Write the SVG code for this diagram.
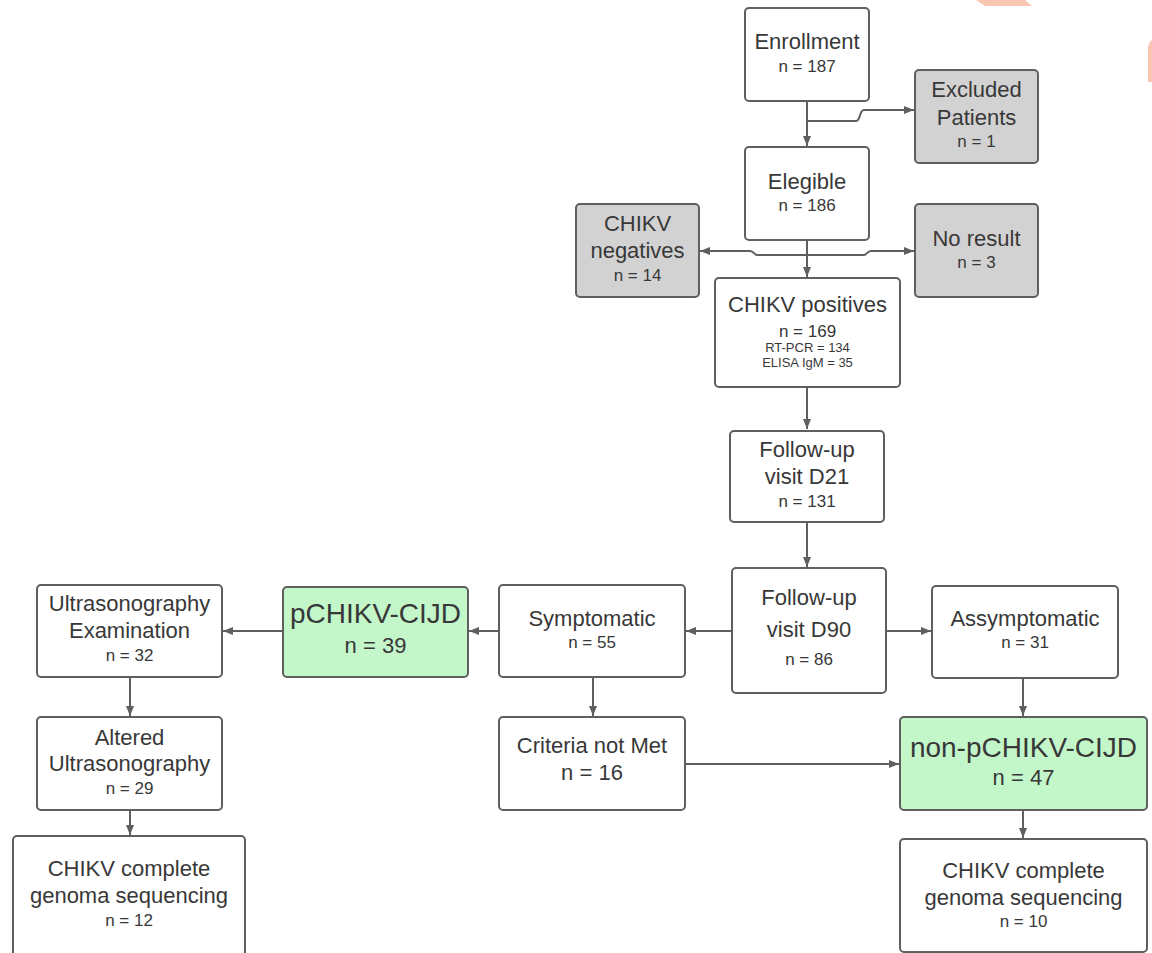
<svg xmlns="http://www.w3.org/2000/svg" width="1152" height="953" viewBox="0 0 1152 953">
<defs>
<style>
.box{fill:#ffffff;stroke:#5f5f5f;stroke-width:2}
.grey{fill:#d2d2d2;stroke:#5f5f5f;stroke-width:2}
.green{fill:#c3f6c9;stroke:#5f5f5f;stroke-width:2}
.t{font-family:"Liberation Sans",Arial,sans-serif;fill:#383838;text-anchor:middle}
.l{font-size:22px}
.s{font-size:17px}
.xs{font-size:13px}
.xl{font-size:28px}
.m{font-size:22px}
.c{fill:none;stroke:#5f5f5f;stroke-width:2}
</style>
<marker id="ah" viewBox="0 0 10 8" refX="10" refY="4" markerWidth="10" markerHeight="8" markerUnits="userSpaceOnUse" orient="auto">
<path d="M0,0 L10,4 L0,8 z" fill="#5f5f5f"/>
</marker>
</defs>
<rect width="1152" height="953" fill="#ffffff"/>
<polygon points="976,0 1025,0 1032,6 985,6" fill="#f9c7b1"/>
<path d="M1152,40 C1149,42 1148,45 1148,50 V82 H1152 Z" fill="#f9c7b1"/>

<g id="connectors">
<path class="c" d="M807 101 V146" marker-end="url(#ah)"/>
<path class="c" d="M807 121 H856 C861 121 859 110 864 110 H914" marker-end="url(#ah)"/>
<path class="c" d="M807 240 V277" marker-end="url(#ah)"/>
<path class="c" d="M807 255 H757 C754 255 754 251 750 251 H700" marker-end="url(#ah)"/>
<path class="c" d="M807 255 H864 C867 255 867 251 871 251 H914" marker-end="url(#ah)"/>
<path class="c" d="M807 387 V429" marker-end="url(#ah)"/>
<path class="c" d="M807 522 V567" marker-end="url(#ah)"/>
<path class="c" d="M731 631 H686" marker-end="url(#ah)"/>
<path class="c" d="M887 631 H931" marker-end="url(#ah)"/>
<path class="c" d="M498 631 H469" marker-end="url(#ah)"/>
<path class="c" d="M282 631 H223" marker-end="url(#ah)"/>
<path class="c" d="M130 678 V716" marker-end="url(#ah)"/>
<path class="c" d="M130 811 V835" marker-end="url(#ah)"/>
<path class="c" d="M593 678 V716" marker-end="url(#ah)"/>
<path class="c" d="M686 764 H899" marker-end="url(#ah)"/>
<path class="c" d="M1023 679 V716" marker-end="url(#ah)"/>
<path class="c" d="M1023 811 V838" marker-end="url(#ah)"/>
</g>

<g id="enrollment">
<rect class="box" x="745" y="8" width="124" height="93" rx="4"/>
<text class="t l" x="807" y="49">Enrollment</text>
<text class="t s" x="807" y="72">n = 187</text>
</g>
<g id="excluded">
<rect class="grey" x="915" y="70" width="123" height="93" rx="4"/>
<text class="t l" x="976.5" y="97">Excluded</text>
<text class="t l" x="976.5" y="125">Patients</text>
<text class="t s" x="976.5" y="147">n = 1</text>
</g>
<g id="elegible">
<rect class="box" x="745" y="147" width="124" height="93" rx="4"/>
<text class="t l" x="807" y="189">Elegible</text>
<text class="t s" x="807" y="211">n = 186</text>
</g>
<g id="negatives">
<rect class="grey" x="576" y="204" width="123" height="93" rx="4"/>
<text class="t l" x="637.5" y="231">CHIKV</text>
<text class="t l" x="637.5" y="258">negatives</text>
<text class="t s" x="637.5" y="281">n = 14</text>
</g>
<g id="noresult">
<rect class="grey" x="915" y="204" width="123" height="93" rx="4"/>
<text class="t l" x="976.5" y="246">No result</text>
<text class="t s" x="976.5" y="268">n = 3</text>
</g>
<g id="positives">
<rect class="box" x="715" y="278" width="185" height="109" rx="4"/>
<text class="t l" x="807.5" y="312">CHIKV positives</text>
<text class="t s" x="807.5" y="337">n = 169</text>
<text class="t xs" x="807.5" y="352">RT-PCR = 134</text>
<text class="t xs" x="807.5" y="367">ELISA IgM = 35</text>
</g>
<g id="d21">
<rect class="box" x="730" y="431" width="154" height="91" rx="4"/>
<text class="t l" x="807" y="457">Follow-up</text>
<text class="t l" x="807" y="484">visit D21</text>
<text class="t s" x="807" y="507">n = 131</text>
</g>
<g id="d90">
<rect class="box" x="732" y="568" width="154" height="125" rx="4"/>
<text class="t l" x="809" y="605">Follow-up</text>
<text class="t l" x="809" y="637">visit D90</text>
<text class="t s" x="809" y="665">n = 86</text>
</g>
<g id="symptomatic">
<rect class="box" x="499" y="585" width="186" height="92" rx="4"/>
<text class="t l" x="592" y="626">Symptomatic</text>
<text class="t s" x="592" y="648">n = 55</text>
</g>
<g id="assymptomatic">
<rect class="box" x="932" y="586" width="186" height="92" rx="4"/>
<text class="t l" x="1025" y="626">Assymptomatic</text>
<text class="t s" x="1025" y="648">n = 31</text>
</g>
<g id="pchikv">
<rect class="green" x="283" y="587" width="185" height="90" rx="4"/>
<text class="t xl" x="375.5" y="623">pCHIKV-CIJD</text>
<text class="t m" x="375.5" y="653">n = 39</text>
</g>
<g id="ultra">
<rect class="box" x="37" y="585" width="185" height="92" rx="4"/>
<text class="t l" x="129.5" y="611">Ultrasonography</text>
<text class="t l" x="129.5" y="638">Examination</text>
<text class="t s" x="129.5" y="661">n = 32</text>
</g>
<g id="altered">
<rect class="box" x="37" y="717" width="185" height="93" rx="4"/>
<text class="t l" x="129.5" y="745">Altered</text>
<text class="t l" x="129.5" y="771">Ultrasonography</text>
<text class="t s" x="129.5" y="794">n = 29</text>
</g>
<g id="genome-left">
<rect class="box" x="13" y="836" width="232" height="140" rx="4"/>
<text class="t l" x="129" y="876">CHIKV complete</text>
<text class="t l" x="129" y="903">genoma sequencing</text>
<text class="t s" x="129" y="926">n = 12</text>
</g>
<g id="criteria">
<rect class="box" x="499" y="717" width="186" height="93" rx="4"/>
<text class="t l" x="592" y="753">Criteria not Met</text>
<text class="t m" x="592" y="780">n = 16</text>
</g>
<g id="nonpchikv">
<rect class="green" x="900" y="717" width="247" height="93" rx="4"/>
<text class="t xl" x="1023.5" y="757">non-pCHIKV-CIJD</text>
<text class="t m" x="1023.5" y="785">n = 47</text>
</g>
<g id="genome-right">
<rect class="box" x="900" y="839" width="247" height="113" rx="4"/>
<text class="t l" x="1023.5" y="878">CHIKV complete</text>
<text class="t l" x="1023.5" y="905">genoma sequencing</text>
<text class="t s" x="1023.5" y="927">n = 10</text>
</g>
</svg>
